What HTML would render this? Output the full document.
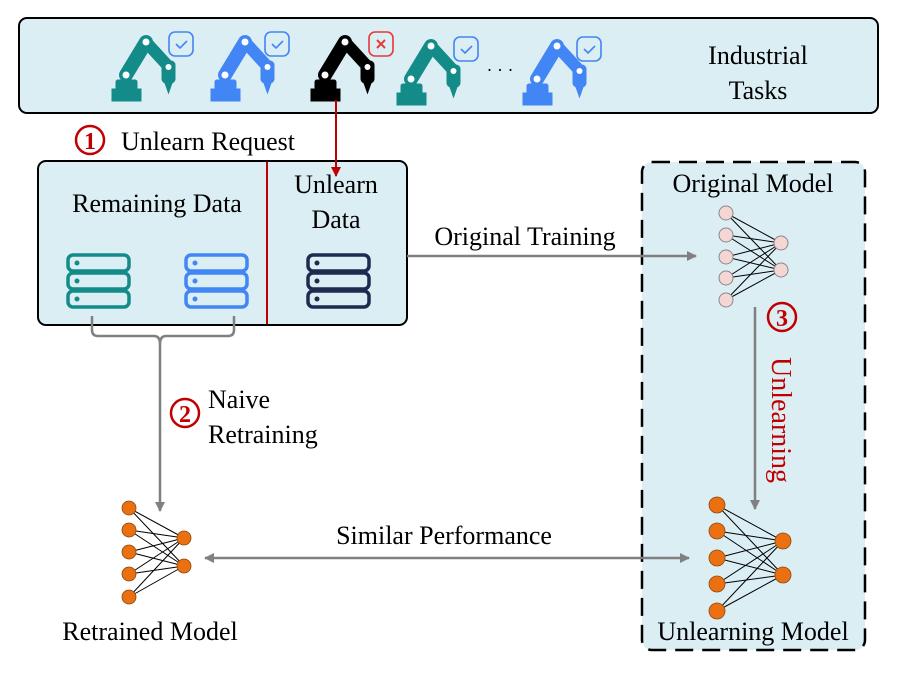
<!DOCTYPE html>
<html><head><meta charset="utf-8"><style>
html,body{margin:0;padding:0;background:#fff;}
svg text{font-family:"Liberation Serif","Times New Roman",Times,"DejaVu Serif",serif;}
</style></head><body>
<svg width="897" height="670" viewBox="0 0 897 670" xmlns="http://www.w3.org/2000/svg" font-family="Liberation Serif, Times New Roman, serif">
<defs>
<marker id="ag" markerWidth="10" markerHeight="10" refX="9" refY="5" orient="auto" markerUnits="userSpaceOnUse"><path d="M0,0 L10,5 L0,10 z" fill="#808080"/></marker>
<marker id="ags" markerWidth="10" markerHeight="10" refX="1" refY="5" orient="auto" markerUnits="userSpaceOnUse"><path d="M10,0 L0,5 L10,10 z" fill="#808080"/></marker>
<marker id="ar" markerWidth="10" markerHeight="10" refX="9" refY="5" orient="auto" markerUnits="userSpaceOnUse"><path d="M0,0 L10,5 L0,10 z" fill="#c00000"/></marker>
<g id="robot">
<rect x="112" y="89" width="29" height="12"/>
<rect x="116" y="80" width="21" height="10" rx="2"/>
<line x1="126" y1="75" x2="146" y2="42" stroke-width="14" stroke-linecap="round"/>
<line x1="146" y1="42" x2="168" y2="66" stroke-width="12" stroke-linecap="round"/>
<rect x="162" y="61" width="13" height="22" rx="4"/>
<polygon points="165,83 172,83 168.5,93"/>
<circle cx="126" cy="75" r="3.5" fill="#fff" stroke="none"/>
<circle cx="146" cy="42" r="3.5" fill="#fff" stroke="none"/>
<circle cx="168.5" cy="67" r="3" fill="#fff" stroke="none"/>
</g>
</defs>

<!-- top box -->
<rect x="19" y="18" width="859" height="95" rx="8" fill="#dbeef4" stroke="#000" stroke-width="2"/>
<g fill="#138b88" stroke="#138b88"><use href="#robot"/></g>
<g fill="#4285f4" stroke="#4285f4" transform="translate(99,0)"><use href="#robot"/></g>
<g fill="#000" stroke="#000" transform="translate(199,0)"><use href="#robot"/></g>
<g fill="#138b88" stroke="#138b88" transform="translate(285,4)"><use href="#robot"/></g>
<g fill="#4285f4" stroke="#4285f4" transform="translate(411,4)"><use href="#robot"/></g>
<g fill="none" stroke-width="1.6">
<rect x="169" y="32" width="24" height="24" rx="6" stroke="#4285f4"/><path d="M176,44 l4,4 l7,-7" stroke="#4285f4"/>
<rect x="265" y="32" width="24" height="24" rx="6" stroke="#4285f4"/><path d="M272,44 l4,4 l7,-7" stroke="#4285f4"/>
<rect x="369" y="32" width="24" height="24" rx="6" stroke="#e53935"/><path d="M377,40 l8,8 M385,40 l-8,8" stroke="#e53935" stroke-width="2"/>
<rect x="454" y="37" width="24" height="24" rx="6" stroke="#4285f4"/><path d="M461,49 l4,4 l7,-7" stroke="#4285f4"/>
<rect x="577" y="37" width="24" height="24" rx="6" stroke="#4285f4"/><path d="M584,49 l4,4 l7,-7" stroke="#4285f4"/>
</g>
<text x="500" y="76" font-size="18" text-anchor="middle">· · ·</text>
<text x="758" y="64" font-size="26" text-anchor="middle">Industrial</text>
<text x="758" y="99" font-size="26" text-anchor="middle">Tasks</text>

<!-- unlearn request -->
<circle cx="90" cy="140" r="14" fill="none" stroke="#c00000" stroke-width="2.5"/>
<text x="90" y="149" font-size="24" font-weight="bold" fill="#c00000" text-anchor="middle">1</text>
<text x="121" y="150" font-size="26">Unlearn Request</text>

<!-- data box -->
<rect x="38" y="161" width="369" height="164" rx="8" fill="#dbeef4" stroke="#000" stroke-width="2"/>
<line x1="267" y1="162" x2="267" y2="324" stroke="#c00000" stroke-width="2"/>
<line x1="336" y1="100" x2="336" y2="176" stroke="#c00000" stroke-width="2" marker-end="url(#ar)"/>
<text x="157" y="212" font-size="26" text-anchor="middle">Remaining Data</text>
<text x="336" y="193" font-size="26" text-anchor="middle">Unlearn</text>
<text x="336" y="228" font-size="26" text-anchor="middle">Data</text>
<g fill="none" stroke-width="3.5">
<g stroke="#138b88"><rect x="68" y="255" width="61" height="16" rx="5"/><rect x="68" y="273" width="61" height="16" rx="5"/><rect x="68" y="291" width="61" height="16" rx="5"/></g>
<g stroke="#4285f4"><rect x="186" y="255" width="61" height="16" rx="5"/><rect x="186" y="273" width="61" height="16" rx="5"/><rect x="186" y="291" width="61" height="16" rx="5"/></g>
<g stroke="#1e2a4f"><rect x="308" y="255" width="61" height="16" rx="5"/><rect x="308" y="273" width="61" height="16" rx="5"/><rect x="308" y="291" width="61" height="16" rx="5"/></g>
</g>
<g><circle cx="77" cy="263" r="2.5" fill="#138b88"/><circle cx="77" cy="281" r="2.5" fill="#138b88"/><circle cx="77" cy="299" r="2.5" fill="#138b88"/>
<circle cx="195" cy="263" r="2.5" fill="#4285f4"/><circle cx="195" cy="281" r="2.5" fill="#4285f4"/><circle cx="195" cy="299" r="2.5" fill="#4285f4"/>
<circle cx="317" cy="263" r="2.5" fill="#1e2a4f"/><circle cx="317" cy="281" r="2.5" fill="#1e2a4f"/><circle cx="317" cy="299" r="2.5" fill="#1e2a4f"/></g>

<!-- bracket -->
<path d="M92,316 V330 Q92,336 98,336 H154 Q160,336 160,344 Q160,336 166,336 H228 Q234,336 234,330 V316" fill="none" stroke="#808080" stroke-width="2.5"/>
<line x1="160" y1="344" x2="160" y2="511" stroke="#808080" stroke-width="2.5" marker-end="url(#ag)"/>
<circle cx="185" cy="413" r="14" fill="none" stroke="#c00000" stroke-width="2.5"/>
<text x="185" y="422" font-size="24" font-weight="bold" fill="#c00000" text-anchor="middle">2</text>
<text x="208" y="408" font-size="26">Naive</text>
<text x="208" y="443" font-size="26">Retraining</text>

<!-- right dashed box -->
<rect x="642" y="162" width="223" height="488" rx="10" fill="#dbeef4" stroke="#000" stroke-width="2.5" stroke-dasharray="18,9"/>

<!-- original training -->
<line x1="407" y1="256" x2="696" y2="256" stroke="#808080" stroke-width="2.5" marker-end="url(#ag)"/>
<text x="525" y="245" font-size="26" text-anchor="middle">Original Training</text>

<text x="753" y="192" font-size="26" text-anchor="middle">Original Model</text>
<g stroke="#000" stroke-width="1">
<path d="M726,213 L781,243 M726,213 L781,270 M726,235 L781,243 M726,235 L781,270 M726,257 L781,243 M726,257 L781,270 M726,278 L781,243 M726,278 L781,270 M726,300 L781,243 M726,300 L781,270"/>
</g>
<g fill="#f4d6d4" stroke="#888" stroke-width="1">
<circle cx="726" cy="213" r="7"/><circle cx="726" cy="235" r="7"/><circle cx="726" cy="257" r="7"/><circle cx="726" cy="278" r="7"/><circle cx="726" cy="300" r="7"/>
<circle cx="781" cy="243" r="7"/><circle cx="781" cy="270" r="7"/>
</g>
<line x1="755" y1="307" x2="755" y2="509" stroke="#808080" stroke-width="2.5" marker-end="url(#ag)"/>
<circle cx="782" cy="317" r="14" fill="none" stroke="#c00000" stroke-width="2.5"/>
<text x="782" y="326" font-size="24" font-weight="bold" fill="#c00000" text-anchor="middle">3</text>
<text transform="translate(772,420) rotate(90)" font-size="28" fill="#c00000" text-anchor="middle">Unlearning</text>

<g stroke="#000" stroke-width="1">
<path d="M717,505 L783,541 M717,505 L783,575 M717,531 L783,541 M717,531 L783,575 M717,558 L783,541 M717,558 L783,575 M717,584 L783,541 M717,584 L783,575 M717,611 L783,541 M717,611 L783,575"/>
</g>
<g fill="#eb7011" stroke="#8a4a10" stroke-width="0.8">
<circle cx="717" cy="505" r="8"/><circle cx="717" cy="531" r="8"/><circle cx="717" cy="558" r="8"/><circle cx="717" cy="584" r="8"/><circle cx="717" cy="611" r="8"/>
<circle cx="783" cy="541" r="8"/><circle cx="783" cy="575" r="8"/>
</g>
<text x="753" y="640" font-size="26" text-anchor="middle">Unlearning Model</text>

<!-- retrained -->
<g stroke="#000" stroke-width="1">
<path d="M129,508 L184,538 M129,508 L184,566 M129,530 L184,538 M129,530 L184,566 M129,552 L184,538 M129,552 L184,566 M129,574 L184,538 M129,574 L184,566 M129,597 L184,538 M129,597 L184,566"/>
</g>
<g fill="#eb7011" stroke="#8a4a10" stroke-width="0.8">
<circle cx="129" cy="508" r="7"/><circle cx="129" cy="530" r="7"/><circle cx="129" cy="552" r="7"/><circle cx="129" cy="574" r="7"/><circle cx="129" cy="597" r="7"/>
<circle cx="184" cy="538" r="7"/><circle cx="184" cy="566" r="7"/>
</g>
<text x="150" y="640" font-size="26" text-anchor="middle">Retrained Model</text>

<line x1="205" y1="558" x2="689" y2="558" stroke="#808080" stroke-width="2.5" marker-start="url(#ags)" marker-end="url(#ag)"/>
<text x="444" y="544" font-size="26" text-anchor="middle">Similar Performance</text>
</svg>
</body></html>
